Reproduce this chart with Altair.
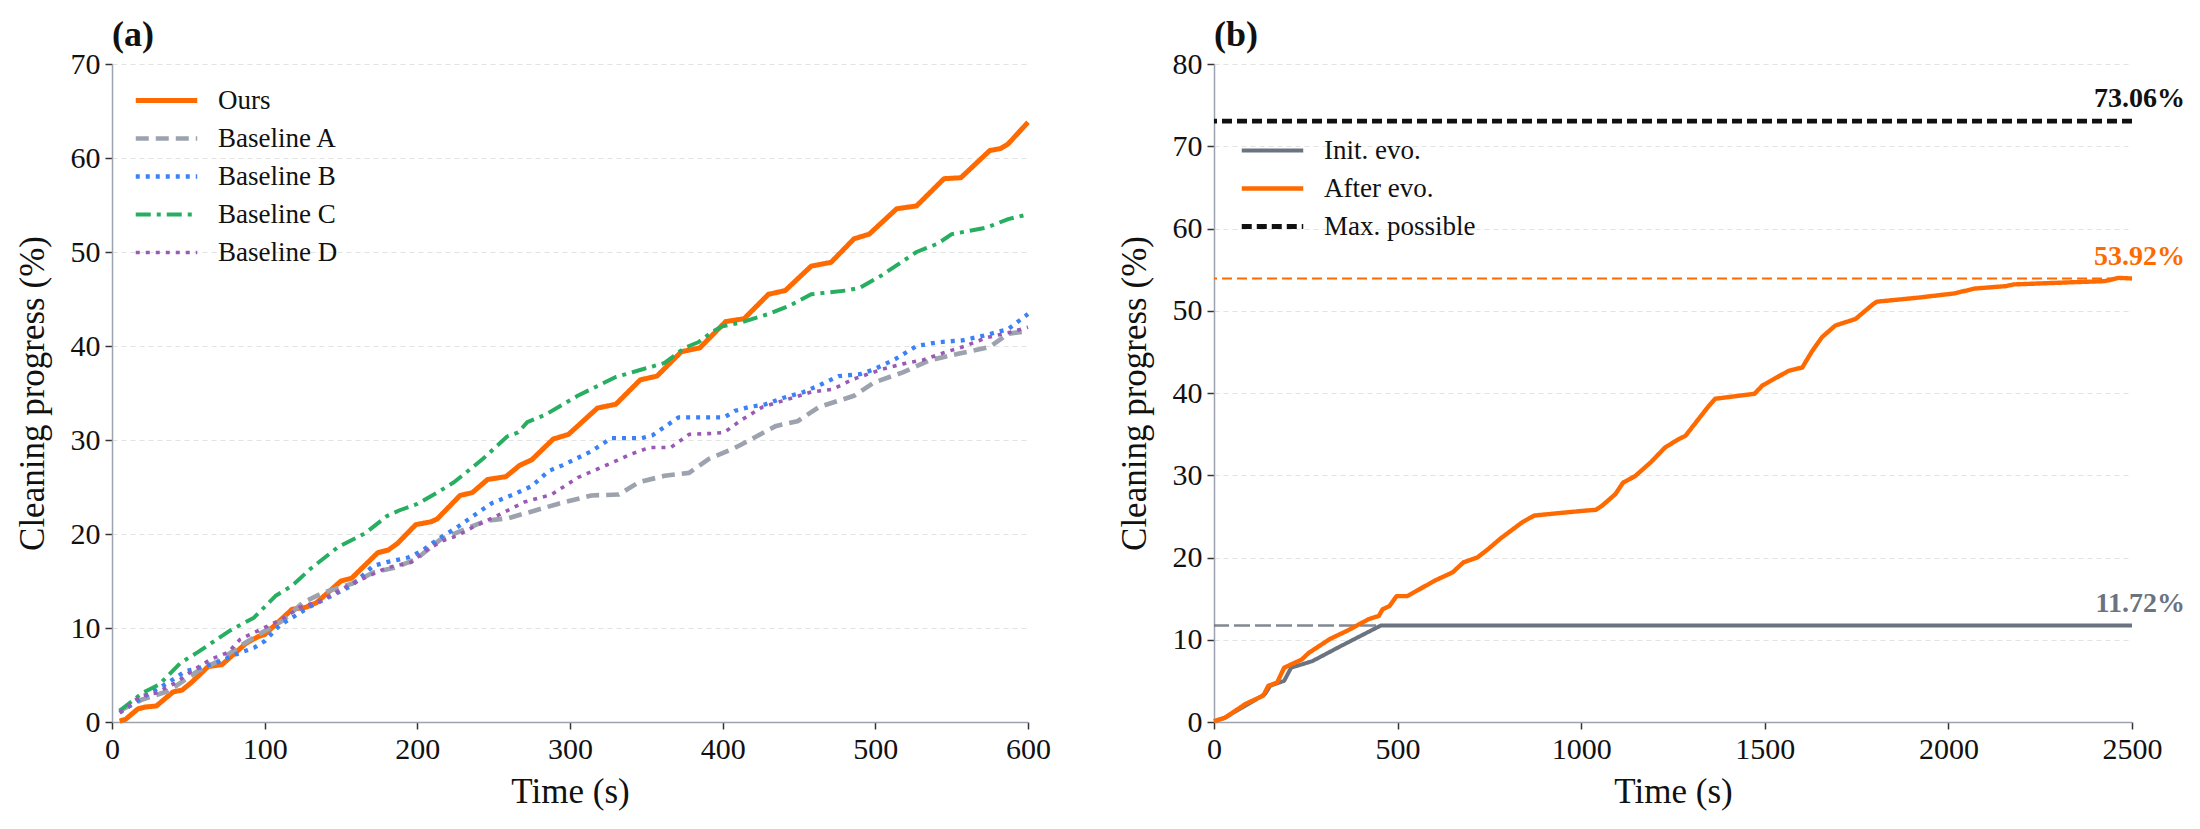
import altair as alt
import pandas as pd

FONT = "Liberation Serif"

# ---------------- panel (a) data ----------------
OURS_T = [5, 9, 17, 22, 29, 40, 46, 52, 63, 72, 88, 96, 100, 118, 127, 134, 150, 157, 174, 181, 187, 199, 209, 213,
          228, 236, 246, 250, 258, 267, 275, 289, 299, 318, 330, 346, 357, 373, 385, 402, 414, 430, 441, 458, 471,
          486, 496, 514, 527, 545, 556, 575, 582, 587, 600]
OURS_V = [0.1, 0.3, 1.4, 1.6, 1.7, 3.2, 3.4, 4.2, 5.9, 6.1, 8.4, 9.1, 9.3, 12.0, 12.2, 12.7, 15.0, 15.3, 18.0, 18.3,
          19.0, 21.0, 21.3, 21.6, 24.1, 24.4, 25.8, 25.9, 26.1, 27.3, 27.9, 30.1, 30.6, 33.4, 33.8, 36.4, 36.8, 39.4,
          39.8, 42.6, 42.9, 45.5, 45.9, 48.5, 48.9, 51.4, 51.9, 54.6, 54.9, 57.8, 57.9, 60.8, 61.0, 61.5, 63.8]

BASE_A_T = [5, 20, 37, 47, 56, 70, 84, 98, 112, 125, 139, 157, 171, 185, 199, 215, 231, 245, 260, 275, 292, 314,
            332, 345, 362, 378, 391, 406, 412, 435, 449, 463, 486, 499, 518, 536, 555, 575, 587, 600]
BASE_A_V = [1.2, 2.4, 3.3, 4.4, 5.4, 6.5, 8.1, 9.5, 10.8, 12.7, 13.8, 14.7, 15.9, 16.4, 17.3, 19.4, 20.5, 21.4,
            21.7, 22.4, 23.2, 24.1, 24.2, 25.5, 26.2, 26.5, 28.0, 29.0, 29.5, 31.5, 32.0, 33.5, 34.7, 36.1, 37.2,
            38.5, 39.2, 39.9, 41.3, 41.6]

BASE_B_T = [5, 20, 37, 48, 58, 72, 78, 93, 100, 110, 120, 130, 146, 157, 171, 180, 194, 203, 213, 226, 240, 249,
            263, 275, 286, 295, 314, 327, 347, 354, 371, 388, 401, 408, 417, 428, 440, 453, 463, 476, 490, 499,
            513, 527, 541, 557, 571, 587, 600]
BASE_B_V = [1.0, 2.6, 4.2, 5.4, 5.8, 6.5, 7.0, 7.9, 8.6, 10.3, 11.3, 12.3, 13.6, 14.5, 16.6, 17.0, 17.5, 18.2,
            19.4, 20.7, 22.3, 23.3, 24.2, 25.1, 26.7, 27.3, 28.8, 30.2, 30.2, 30.5, 32.4, 32.4, 32.4, 33.1, 33.5,
            33.8, 34.5, 35.1, 35.8, 36.8, 37.0, 37.5, 38.6, 40.0, 40.4, 40.6, 41.1, 41.8, 43.4]

BASE_C_T = [5, 20, 31, 45, 56, 77, 93, 107, 118, 130, 148, 166, 180, 188, 200, 213, 224, 243, 259, 266, 272, 284,
            305, 330, 347, 362, 375, 384, 394, 400, 412, 430, 444, 458, 481, 490, 504, 527, 541, 550, 573, 587, 600]
BASE_C_V = [1.2, 3.1, 4.0, 6.3, 7.4, 9.7, 11.1, 13.4, 14.5, 16.3, 18.6, 20.1, 21.9, 22.5, 23.2, 24.4, 25.5, 28.0,
            30.4, 30.8, 31.9, 32.7, 34.7, 36.7, 37.5, 38.2, 39.8, 40.4, 41.6, 42.1, 42.5, 43.4, 44.3, 45.5, 45.9,
            46.2, 47.5, 50.0, 50.9, 51.9, 52.6, 53.5, 54.0]

BASE_D_T = [5, 19, 29, 42, 52, 65, 76, 84, 98, 111, 123, 137, 150, 157, 169, 180, 196, 208, 217, 226, 236, 253,
            270, 288, 305, 325, 340, 352, 366, 378, 393, 401, 412, 426, 440, 458, 472, 486, 504, 518, 531, 545,
            559, 573, 587, 600]
BASE_D_V = [1.0, 2.8, 3.1, 4.2, 5.4, 6.7, 7.4, 8.8, 9.9, 10.9, 12.2, 12.9, 14.1, 14.7, 15.6, 16.4, 17.0, 18.5,
            19.3, 19.8, 20.7, 22.0, 23.4, 24.2, 26.0, 27.4, 28.5, 29.2, 29.2, 30.6, 30.7, 30.8, 32.1, 33.5, 34.2,
            35.1, 35.4, 36.5, 37.5, 38.1, 38.5, 39.3, 40.0, 40.9, 41.4, 42.0]

SERIES_A = ["Ours", "Baseline A", "Baseline B", "Baseline C", "Baseline D"]
COLORS_A = ["#FF6A00", "#9CA3AF", "#3B82F6", "#27AE60", "#9B59B6"]
DASH_A = [[1, 0], [13, 7], [4, 6], [15, 6, 4, 6], [4, 6]]
WIDTH_A = [5, 3.6, 3.9, 3.6, 3.9]
X_TICKS_A = [0, 100, 200, 300, 400, 500, 600]
Y_TICKS_A = [0, 10, 20, 30, 40, 50, 60, 70]

# ---------------- panel (b) data ----------------
AFTER_T = [0, 29, 86, 134, 148, 172, 191, 239, 258, 316, 363, 421, 449, 459, 478, 497, 526, 602, 650, 679, 717,
           746, 780, 840, 872, 940, 1011, 1040, 1057, 1093, 1114, 1147, 1190, 1229, 1266, 1284, 1347, 1365, 1472,
           1493, 1565, 1602, 1629, 1656, 1692, 1747, 1795, 1805, 1919, 2015, 2072, 2158, 2177, 2359, 2426, 2464,
           2500]
AFTER_V = [0.1, 0.5, 2.2, 3.2, 4.4, 4.8, 6.6, 7.6, 8.4, 10.1, 11.1, 12.5, 12.9, 13.7, 14.1, 15.3, 15.3, 17.2,
           18.2, 19.4, 20.0, 21.0, 22.3, 24.3, 25.1, 25.4, 25.7, 25.8, 26.3, 27.7, 29.1, 29.9, 31.6, 33.4, 34.4,
           34.8, 38.4, 39.3, 39.9, 40.9, 42.7, 43.1, 45.1, 46.8, 48.2, 49.0, 50.8, 51.1, 51.6, 52.1, 52.7, 53.0,
           53.2, 53.5, 53.6, 54.0, 53.92]
INIT_T = [0, 29, 86, 139, 153, 191, 210, 268, 344, 392, 454, 2500]
INIT_V = [0.1, 0.5, 2.0, 3.4, 4.4, 5.0, 6.6, 7.4, 9.2, 10.3, 11.72, 11.72]

MAX_POSSIBLE = 73.06
AFTER_FINAL = 53.92
INIT_FINAL = 11.72
X_END_B = 2500

SERIES_B = ["Init. evo.", "After evo.", "Max. possible"]
COLORS_B = ["#6B7280", "#FF6A00", "#111111"]
DASH_B = [[1, 0], [1, 0], [10, 5]]
WIDTH_B = [4, 4.8, 2.5]
X_TICKS_B = [0, 500, 1000, 1500, 2000, 2500]
Y_TICKS_B = [0, 10, 20, 30, 40, 50, 60, 70, 80]

REF_LINES = pd.DataFrame({
    "series": ["Max. possible"],
    "v": [MAX_POSSIBLE],
})
LABELS_B = pd.DataFrame({
    "t": [X_END_B, X_END_B, X_END_B],
    "v": [MAX_POSSIBLE, AFTER_FINAL, INIT_FINAL],
    "txt": [f"{MAX_POSSIBLE:.2f}%", f"{AFTER_FINAL:.2f}%", f"{INIT_FINAL:.2f}%"],
    "col": ["#111111", "#FF6A00", "#6B7280"],
})


def long_df(items):
    rows = []
    for name, ts, vs in items:
        for t, v in zip(ts, vs):
            rows.append({"series": name, "t": t, "v": v})
    return pd.DataFrame(rows)


df_a = long_df([("Ours", OURS_T, OURS_V), ("Baseline A", BASE_A_T, BASE_A_V),
                ("Baseline B", BASE_B_T, BASE_B_V), ("Baseline C", BASE_C_T, BASE_C_V),
                ("Baseline D", BASE_D_T, BASE_D_V)])
df_a["order"] = df_a["series"].map({s: i for i, s in enumerate(SERIES_A)})

df_b = long_df([("Init. evo.", INIT_T, INIT_V), ("After evo.", AFTER_T, AFTER_V)])

W, H = 916, 658

# a wide, flat line symbol: path spans 3x the symbol box so rows stay compact
leg_common = dict(title=None, orient="none", symbolType="M-3,0H3", symbolSize=420,
                  symbolFillColor="transparent",
                  labelFont=FONT, labelFontSize=27, labelColor="#111", labelOffset=38,
                  rowPadding=10, padding=0, labelLimit=400)

AX = dict(labelFont=FONT, titleFont=FONT, labelFontSize=30, titleFontSize=35, titleFontWeight="normal",
          labelColor="#111", titleColor="#111")


def xaxis(vals):
    return alt.Axis(values=vals, title="Time (s)", grid=False, labelFlush=False, format="d",
                    titlePadding=10, **AX)


def yaxis(vals):
    return alt.Axis(values=vals, title="Cleaning progress (%)", grid=True, format="d",
                    titlePadding=20, **AX)


x_a = alt.X("t:Q", scale=alt.Scale(domain=[0, 600], nice=False), axis=xaxis(X_TICKS_A))
y_a = alt.Y("v:Q", scale=alt.Scale(domain=[0, 70], nice=False), axis=yaxis(Y_TICKS_A))

leg_a = dict(legendX=41, legendY=23, **leg_common)
lines_a = alt.Chart(df_a).mark_line(strokeCap="butt", strokeJoin="round").encode(
    x=x_a, y=y_a,
    color=alt.Color("series:N", scale=alt.Scale(domain=SERIES_A, range=COLORS_A), legend=alt.Legend(**leg_a)),
    strokeDash=alt.StrokeDash("series:N", scale=alt.Scale(domain=SERIES_A, range=DASH_A),
                              legend=alt.Legend(**leg_a)),
    strokeWidth=alt.StrokeWidth("series:N", scale=alt.Scale(domain=SERIES_A, range=WIDTH_A),
                                legend=alt.Legend(**leg_a)),
    order=alt.Order("order:Q", sort="descending"),
)

TITLE = dict(anchor="start", frame="group", font=FONT, fontSize=36, fontWeight="bold", color="#111", offset=-5)

panel_a = alt.layer(lines_a).properties(width=W, height=H, title=alt.TitleParams("(a)", **TITLE))

# panel (b)
x_b = alt.X("t:Q", scale=alt.Scale(domain=[0, X_END_B], nice=False), axis=xaxis(X_TICKS_B))
y_b = alt.Y("v:Q", scale=alt.Scale(domain=[0, 80], nice=False), axis=yaxis(Y_TICKS_B))

ref_gray = alt.Chart(pd.DataFrame({"v": [INIT_FINAL]})).mark_rule(
    color="#6B7280", strokeWidth=2.5, strokeDash=[16, 5], opacity=0.85).encode(y=alt.Y("v:Q"))
ref_orange = alt.Chart(pd.DataFrame({"v": [AFTER_FINAL]})).mark_rule(
    color="#FF6A00", strokeWidth=2, strokeDash=[10, 5]).encode(y=alt.Y("v:Q"))

leg_b = dict(legendX=45, legendY=73, **leg_common)
color_b = alt.Color("series:N", scale=alt.Scale(domain=SERIES_B, range=COLORS_B), legend=alt.Legend(**leg_b))
dash_b = alt.StrokeDash("series:N", scale=alt.Scale(domain=SERIES_B, range=DASH_B), legend=alt.Legend(**leg_b))
width_b = alt.StrokeWidth("series:N", scale=alt.Scale(domain=SERIES_B, range=WIDTH_B), legend=alt.Legend(**leg_b))

ref_max = alt.Chart(REF_LINES).mark_rule().encode(
    y=alt.Y("v:Q"), color=color_b, strokeDash=dash_b, strokeWidth=width_b)

lines_b = alt.Chart(df_b).mark_line(strokeCap="butt", strokeJoin="round").encode(
    x=x_b, y=y_b, color=color_b, strokeDash=dash_b, strokeWidth=width_b,
    order=alt.Order("series:N", sort="descending"),
)

labels_b = alt.Chart(LABELS_B).mark_text(
    font=FONT, fontSize=28, fontWeight="bold", align="right", baseline="alphabetic", dx=53, dy=-14
).encode(x=alt.X("t:Q"), y=alt.Y("v:Q"), text="txt:N", color=alt.Color("col:N", scale=None))

panel_b = alt.layer(ref_gray, ref_orange, ref_max, lines_b, labels_b).properties(
    width=W + 2, height=H, title=alt.TitleParams("(b)", **TITLE))

chart = alt.hconcat(panel_a, panel_b, spacing=66).resolve_scale(
    color="independent", strokeDash="independent", strokeWidth="independent"
).configure_view(stroke=None).configure_axis(
    domainColor="#9CA3AF", domainWidth=1.5,
    tickColor="#333", tickSize=7, tickWidth=1.5, gridColor="#E3E3E3", gridDash=[5, 4], gridWidth=1,
    labelPadding=5,
).properties(padding={"left": 7, "top": 9, "right": 5, "bottom": 5}, background="white")

chart.save("out.html", embed_options={"renderer": "svg", "actions": False})
